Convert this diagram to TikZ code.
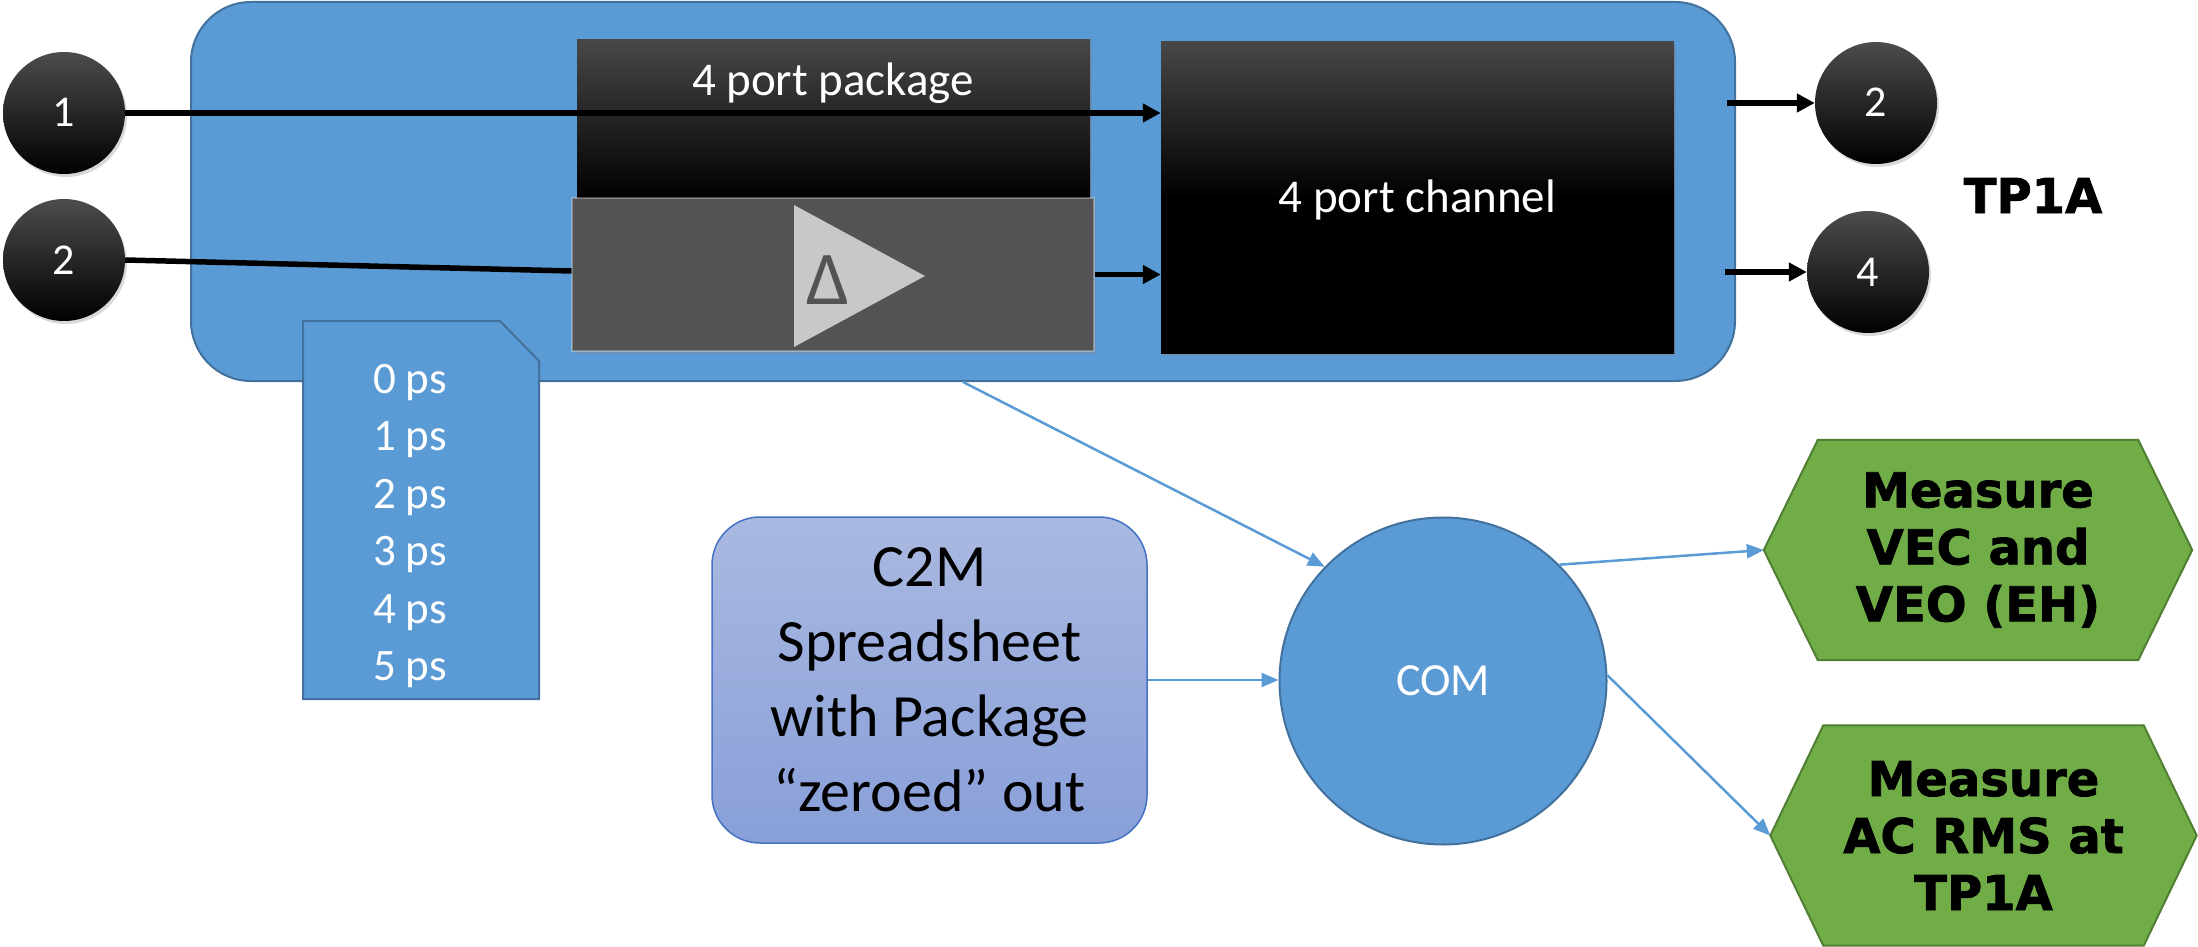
\documentclass[tikz,border=0pt]{standalone}
\usepackage{fontspec}
\setmainfont{Carlito}
\newfontfamily\heavy{DejaVu Sans}[BoldFeatures={FakeBold=1.6}]
\usetikzlibrary{arrows.meta,shadows,calc,backgrounds}
\definecolor{mblue}{HTML}{5B9BD5}
\definecolor{mbluedk}{HTML}{41719C}
\definecolor{mgreen}{HTML}{70AD47}
\definecolor{mgreendk}{HTML}{507E32}
\definecolor{ctop}{HTML}{AAB9E1}
\definecolor{cbot}{HTML}{889FD8}
\definecolor{cline}{HTML}{4472C4}
\definecolor{pkggrey}{HTML}{535353}
\definecolor{trigrey}{HTML}{C8C8C8}
\begin{document}
\begin{tikzpicture}[x=1pt,y=-1pt,
  dshadow/.style={drop shadow={opacity=0.3,shadow xshift=2pt,shadow yshift=-3pt}},
  port/.style={circle,minimum size=122pt,inner sep=0pt,top color=black!70,bottom color=black,
    text=white,font=\fontsize{44}{50}\selectfont,text height=28pt,text depth=0pt,dshadow},
  blk/.style={line width=5.5pt,-{Triangle[length=18pt,width=18pt]}},
  blkline/.style={line width=5.5pt},
  blu/.style={draw=mblue,line width=2.5pt,-{Triangle[length=17pt,width=14pt]}},
  hexbox/.style={rectangle,minimum width=320pt,minimum height=220pt,inner sep=0pt,align=center,
    font=\heavy\bfseries\fontsize{48}{57}\selectfont},
  hexs/.style={fill=mgreen,draw=mgreendk,line width=2pt},
  bigbox/.style={rectangle,rounded corners=60pt,fill=mblue,draw=mbluedk,line width=2pt,
    minimum width=1544pt,minimum height=379pt,inner sep=0pt},
  darkbox/.style={rectangle,inner sep=0pt,top color=black!72,bottom color=black,dshadow},
  wtext/.style={text=white,inner sep=0pt},
]
\useasboundingbox (0,0) rectangle (2198,947);

% main blue container
\node[bigbox] (big) at (963,191.5) {};

% ports
\node[port] (p1) at (64,113) {1};
\node[port] (p2) at (64,260) {2};
\node[port] (q2) at (1876,103) {2};
\node[port] (q4) at (1868,272) {4};

% delay list (document shape)
\draw[fill=mblue,draw=mbluedk,line width=2pt] (303,321) -- (500,321) -- (539,361) -- (539,699) -- (303,699) -- cycle;
\node[wtext,align=center,font=\fontsize{45}{57.4}\selectfont] (ps) at (410,526) {0 ps\\1 ps\\2 ps\\3 ps\\4 ps\\5 ps};

% line from port 2 into package (under the package)
\node[rectangle,minimum width=522pt,minimum height=153pt,inner sep=0pt] (pkglowref) at (833,274.5) {};
\draw[blkline] (p2.east) -- ([yshift=3.5pt]pkglowref.west);

% package
\node[darkbox,minimum width=513pt,minimum height=158pt] (pkgtop) at (833.5,119) {};
\node[rectangle,minimum width=522pt,minimum height=153pt,inner sep=0pt,fill=pkggrey,
  draw=white,draw opacity=0.3,line width=2pt,dshadow] (pkglow) at (833,274.5) {};
\fill[trigrey] (794,205) -- (925,276) -- (794,347) -- cycle;
\node[anchor=base,inner sep=0pt,text=pkggrey,font=\fontsize{76}{80}\selectfont] (delta) at (828,304) {Δ};
\node[wtext,anchor=base,font=\fontsize{47}{56}\selectfont] (pkgtxt) at (833,96) {4 port package};

% channel
\node[darkbox,middle color=black,minimum width=513pt,minimum height=311pt,text=white,
  font=\fontsize{47}{56}\selectfont,text height=30pt,text depth=0pt] (chan) at (1417.5,197.5) {4 port channel};

% black arrows
\draw[blk] (p1.east) -- (p1.east -| chan.west);
\draw[blk] (pkglow.east) -- (pkglow.east -| chan.west);
\coordinate (o2) at (1727,103);
\coordinate (o4) at (1725,272);
\draw[blk] (o2) -- (q2.west);
\draw[blk] (o4) -- (q4.west);

% TP1A label
\node[anchor=base,inner sep=0pt,font=\heavy\bfseries\fontsize{48}{57}\selectfont] (tp) at (2033,213) {TP1A};

% C2M spreadsheet
\node[rectangle,rounded corners=48pt,minimum width=435pt,minimum height=326pt,inner sep=0pt,
  top color=ctop,bottom color=cbot,draw=cline,line width=1.5pt,align=center,
  font=\fontsize{60}{75}\selectfont] (c2m) at (929.5,680) {C2M\\Spreadsheet\\with Package\\“zeroed” out};

% COM
\node[circle,minimum size=327pt,inner sep=0pt,fill=mblue,draw=mbluedk,line width=2pt,text=white,
  font=\fontsize{46}{55}\selectfont,text height=29.6pt,text depth=0pt] (com) at (1443,681) {COM};

% measurement hexagons
\node[hexbox] (h1) at (1978,550) {Measure\\VEC and\\VEO (EH)};
\node[hexbox] (h2) at (1983.5,835.5) {Measure\\AC RMS at\\TP1A};
\coordinate (h1w) at ($(h1.west)+(-54,0)$);
\coordinate (h1e) at ($(h1.east)+(54,0)$);
\coordinate (h2w) at ($(h2.west)+(-53,0)$);
\coordinate (h2e) at ($(h2.east)+(53,0)$);
\begin{pgfonlayer}{background}
\draw[hexs] (h1.north west) -- (h1.north east) -- (h1e) -- (h1.south east) -- (h1.south west) -- (h1w) -- cycle;
\draw[hexs] (h2.north west) -- (h2.north east) -- (h2e) -- (h2.south east) -- (h2.south west) -- (h2w) -- cycle;
\end{pgfonlayer}

% blue connectors
\draw[blu] (big.south) -- (com.136);
\draw[blu] (c2m.east) -- (c2m.east -| com.west);
\draw[blu] (com.45) -- (h1w);
\draw[blu] (com.2) -- (h2w);
\end{tikzpicture}
\end{document}
